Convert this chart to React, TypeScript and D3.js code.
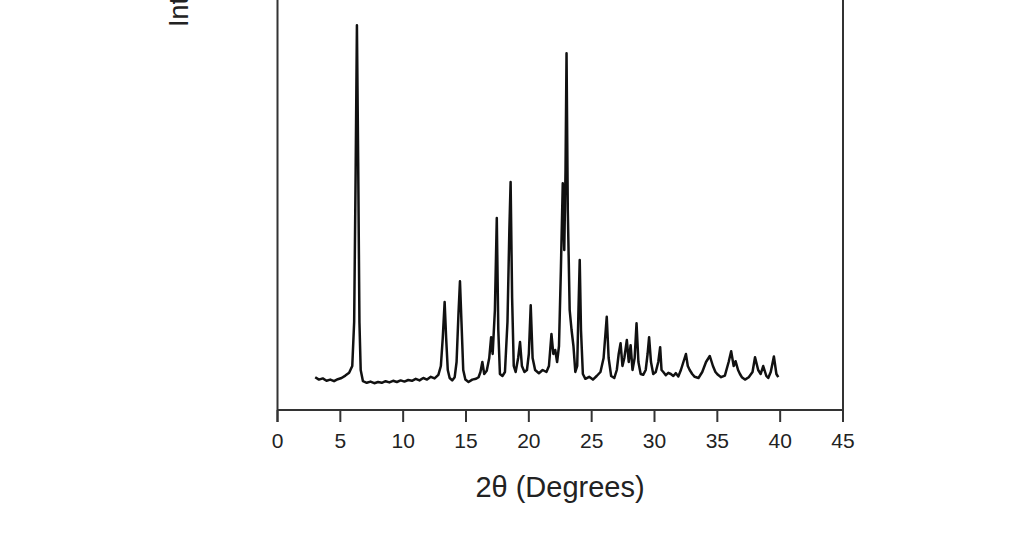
import React from "react";
import * as d3 from "d3";

const xTicks = [0, 5, 10, 15, 20, 25, 30, 35, 40, 45];
const xLabel = "2θ (Degrees)";
const yLabel = "Intensity (a.u.)";

const twoTheta = [
  3.0, 3.3, 3.6, 3.9, 4.2, 4.5, 4.8, 5.1, 5.4, 5.7, 5.95, 6.1, 6.22, 6.32, 6.42, 6.52, 6.62, 6.8,
  7.1, 7.4, 7.7, 8.0, 8.3, 8.6, 8.9, 9.2, 9.5, 9.8, 10.1, 10.4, 10.7, 11.0, 11.3, 11.6, 11.9, 12.2,
  12.5, 12.8, 13.0, 13.15, 13.3, 13.42, 13.55, 13.7, 13.9, 14.1, 14.25, 14.4, 14.52, 14.64, 14.78,
  14.95, 15.2, 15.5, 15.8, 16.0, 16.15, 16.3, 16.45, 16.65, 16.85, 17.0, 17.12, 17.3, 17.45, 17.57,
  17.7, 17.9, 18.1, 18.3, 18.45, 18.55, 18.67, 18.8, 18.95, 19.15, 19.3, 19.45, 19.65, 19.85, 20.0,
  20.15, 20.3, 20.5, 20.8, 21.1, 21.4, 21.6, 21.8, 21.95, 22.1, 22.25, 22.4, 22.55, 22.7, 22.82,
  22.92, 23.0, 23.1, 23.25, 23.4, 23.55, 23.7, 23.85, 23.95, 24.05, 24.15, 24.3, 24.5, 24.8, 25.1,
  25.4, 25.7, 25.95, 26.2, 26.35, 26.55, 26.8, 27.0, 27.15, 27.3, 27.45, 27.6, 27.8, 27.95, 28.1,
  28.25, 28.42, 28.57, 28.72, 28.9, 29.1, 29.3, 29.45, 29.57, 29.72, 29.9, 30.1, 30.3, 30.45,
  30.56, 30.7, 30.9, 31.1, 31.3, 31.5, 31.7, 31.9, 32.1, 32.3, 32.5, 32.65, 32.8, 33.0, 33.2, 33.5,
  33.8, 34.1, 34.4, 34.65, 34.85, 35.05, 35.3, 35.6, 35.9, 36.1, 36.3, 36.45, 36.65, 36.8, 36.95,
  37.2, 37.5, 37.8, 38.0, 38.25, 38.45, 38.65, 38.9, 39.05, 39.25, 39.5, 39.7, 39.85, 40.0,
];

const intensity = [
  8.2, 7.6, 7.9, 7.3, 7.6, 7.2, 7.7, 8.0, 8.6, 9.3, 11, 22, 60, 96.2, 62, 22, 10, 7.2,
  6.8, 7.1, 6.7, 7.0, 6.8, 7.2, 6.9, 7.3, 7.0, 7.4, 7.1, 7.5, 7.3, 7.8, 7.4, 8.0, 7.6, 8.3,
  7.9, 8.8, 11, 18, 27, 18, 10, 8.0, 7.4, 8.2, 12, 24, 32.2, 22,
  10, 7.6, 7.0, 7.6, 7.8, 8.2, 9.5, 12, 9, 9.8, 13, 18.2, 14, 25, 48, 20,
  9, 8.5, 9.5, 22, 45, 57, 28, 11, 9.5, 13, 17, 11, 9.5, 10, 14,
  26.2, 13, 10, 9.2, 10, 9.5, 11, 19, 14, 15, 12, 16, 35, 56.7, 40,
  60, 89.2, 50, 25, 20, 16, 9.5, 11, 25, 37.5, 20, 9, 7.8, 8.3, 7.6,
  8.5, 9.5, 13, 23.3, 13, 8.5, 8, 10, 14, 16.7, 11, 13, 17.5, 12, 16.2,
  10, 13, 21.7, 12, 9, 8.8, 10, 14, 18.2, 12, 9, 9.5, 12,
  15.7, 10, 9.5, 8.7, 9.3, 9.0, 8.5, 9.2, 8.4, 10, 12, 14, 11, 10, 9.0, 8.3,
  8.0, 9.5, 12, 13.5, 11, 9.5, 8.8, 8.2, 8.6, 12, 14.7, 11, 12.2, 10, 9,
  8.2, 7.6, 8.2, 9.5, 13.2, 10, 9, 11, 8.5, 8.0, 9.5, 13.4, 9, 8.2,
];

const W = 1009;
const H = 547;

export default function App() {
  const x = d3.scaleLinear().domain([0, 45]).range([277.5, 843]);
  const y = d3.scaleLinear().domain([0, 100]).range([410, 10]);
  const data = twoTheta.map((t, i) => [t, intensity[i]] as [number, number]);
  const line = d3
    .line<[number, number]>()
    .x((d) => x(d[0]))
    .y((d) => y(d[1]));
  const axisY = y(0);
  const tickLen = 12;
  const font = "'Liberation Sans', Arial, Helvetica, sans-serif";

  return (
    <svg
      width={W}
      height={H}
      style={{ position: "absolute", left: 0, top: 0, background: "#fff" }}
    >
      <rect x={0} y={0} width={W} height={H} fill="#fff" />
      <line x1={x(0)} x2={x(0)} y1={-20} y2={axisY + tickLen} stroke="#333" strokeWidth={2} />
      <line x1={x(45)} x2={x(45)} y1={-20} y2={axisY + tickLen} stroke="#333" strokeWidth={2} />
      <line x1={x(0)} x2={x(45)} y1={axisY} y2={axisY} stroke="#333" strokeWidth={2} />
      {xTicks.map((t) => (
        <g key={t}>
          <line x1={x(t)} x2={x(t)} y1={axisY} y2={axisY + tickLen} stroke="#333" strokeWidth={2} />
          <text
            x={x(t)}
            y={448}
            textAnchor="middle"
            fontFamily={font}
            fontSize={21}
            fill="#222"
          >
            {t}
          </text>
        </g>
      ))}
      <text
        x={560}
        y={497}
        textAnchor="middle"
        fontFamily={font}
        fontSize={29}
        fill="#222"
      >
        {xLabel}
      </text>
      <text
        transform="translate(188,27) rotate(-90)"
        textAnchor="start"
        fontFamily={font}
        fontSize={27}
        fill="#222"
      >
        {yLabel}
      </text>
      <path
        d={line(data) || ""}
        fill="none"
        stroke="#111"
        strokeWidth={2.5}
        strokeLinejoin="round"
      />
    </svg>
  );
}
